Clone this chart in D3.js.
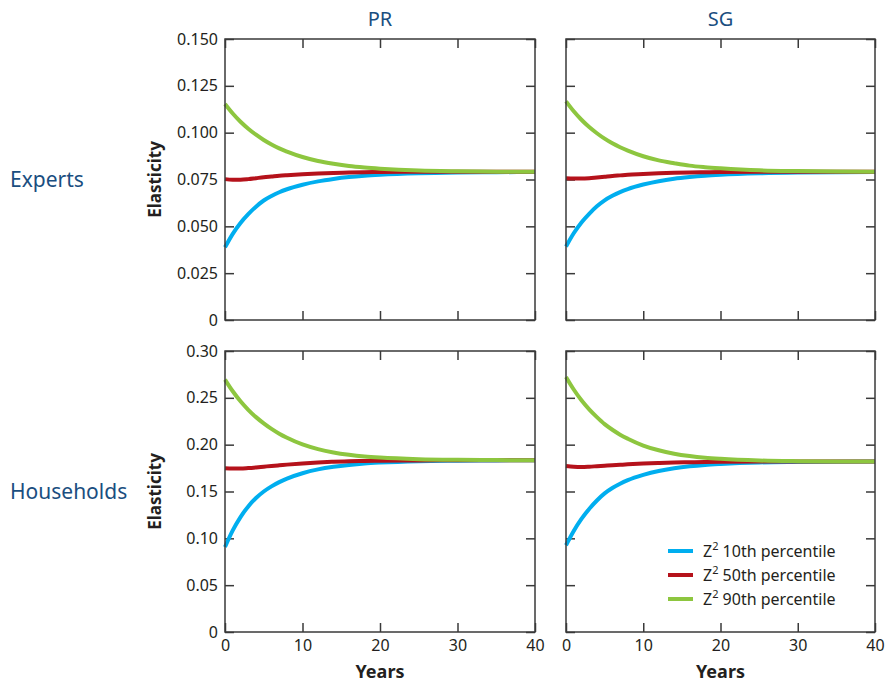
<!DOCTYPE html>
<html><head><meta charset="utf-8">
<script src="https://cdn.jsdelivr.net/npm/d3@7"></script>
<style>body{margin:0;background:#fff}svg{display:block}text{font-family:"Noto Sans",sans-serif}</style>
</head><body><svg id="c" width="885" height="684"></svg>
<script>
const years = [0,1,2,3,4,5,6,7,8,10,12,14,16,18,20,25,30,35,40];
const xTicks = [0,10,20,30,40];
const seriesNames = ["10th percentile","50th percentile","90th percentile"];
const seriesColors = ["#00aeef","#b5121b","#8dc63f"];
const colTitles = ["PR","SG"];
const rowTitles = ["Experts","Households"];
const yTicksExperts = [0,0.025,0.05,0.075,0.1,0.125,0.15];
const yTickLabelsExperts = ["0","0.025","0.050","0.075","0.100","0.125","0.150"];
const yTicksHouse = [0,0.05,0.1,0.15,0.2,0.25,0.3];
const yTickLabelsHouse = ["0","0.05","0.10","0.15","0.20","0.25","0.30"];

// Experts, PR
const expPR10 = [0.0388,0.0460,0.0518,0.0565,0.0605,0.0638,0.0662,0.0682,0.0698,0.0722,0.0740,0.0753,0.0763,0.0770,0.0775,0.0783,0.0787,0.0789,0.0790];
const expPR50 = [0.0752,0.0749,0.0749,0.0752,0.0757,0.0762,0.0766,0.0770,0.0773,0.0778,0.0782,0.0785,0.0787,0.0789,0.0790,0.0791,0.0791,0.0791,0.0791];
const expPR90 = [0.1153,0.1102,0.1058,0.1021,0.0989,0.0961,0.0937,0.0916,0.0899,0.0870,0.0849,0.0834,0.0822,0.0814,0.0808,0.0798,0.0794,0.0792,0.0791];
// Experts, SG
const expSG10 = [0.0392,0.0463,0.0521,0.0567,0.0607,0.0639,0.0663,0.0683,0.0699,0.0723,0.0741,0.0754,0.0763,0.0770,0.0775,0.0783,0.0787,0.0789,0.0790];
const expSG50 = [0.0757,0.0755,0.0755,0.0757,0.0761,0.0765,0.0769,0.0772,0.0775,0.0779,0.0783,0.0786,0.0788,0.0789,0.0790,0.0791,0.0791,0.0791,0.0791];
const expSG90 = [0.1167,0.1114,0.1069,0.1030,0.0997,0.0968,0.0943,0.0922,0.0904,0.0874,0.0852,0.0837,0.0824,0.0816,0.0810,0.0799,0.0795,0.0793,0.0792];
// Households, PR
const houPR10 = [0.0908,0.1085,0.1227,0.1341,0.1430,0.1500,0.1555,0.1600,0.1638,0.1695,0.1736,0.1764,0.1784,0.1799,0.1809,0.1824,0.1829,0.1832,0.1833];
const houPR50 = [0.1748,0.1745,0.1745,0.1750,0.1757,0.1765,0.1773,0.1780,0.1787,0.1800,0.1810,0.1817,0.1822,0.1826,0.1829,0.1832,0.1833,0.1833,0.1833];
const houPR90 = [0.2695,0.2570,0.2463,0.2372,0.2294,0.2227,0.2168,0.2117,0.2074,0.2003,0.1953,0.1917,0.1892,0.1874,0.1862,0.1845,0.1838,0.1835,0.1834];
// Households, SG
const houSG10 = [0.0926,0.1079,0.1207,0.1314,0.1404,0.1480,0.1537,0.1583,0.1621,0.1677,0.1719,0.1748,0.1769,0.1784,0.1794,0.1810,0.1815,0.1818,0.1819];
const houSG50 = [0.1773,0.1765,0.1762,0.1765,0.1770,0.1775,0.1780,0.1785,0.1790,0.1798,0.1804,0.1809,0.1812,0.1815,0.1817,0.1819,0.1819,0.1819,0.1819];
const houSG90 = [0.2723,0.2589,0.2474,0.2377,0.2294,0.2219,0.2159,0.2107,0.2064,0.1991,0.1940,0.1904,0.1879,0.1861,0.1849,0.1831,0.1824,0.1821,0.1820];

const panels = [
  {row:0,col:0,series:[expPR10,expPR50,expPR90]},
  {row:0,col:1,series:[expSG10,expSG50,expSG90]},
  {row:1,col:0,series:[houPR10,houPR50,houPR90]},
  {row:1,col:1,series:[houSG10,houSG50,houSG90]}
];
const rowY = [[39,320],[351,632]];
const colX = [[225,535],[566,875]];
const yDomains = [[0,0.15],[0,0.30]];
const yTickSets = [yTicksExperts, yTicksHouse];
const yTickLabelSets = [yTickLabelsExperts, yTickLabelsHouse];

const svg = d3.select("#c");
const frameColor = "#3a3a3a";
const titleColor = "#1a4e80";
const textColor = "#231f20";

panels.forEach(p => {
  const [x0,x1] = colX[p.col], [y0,y1] = rowY[p.row];
  const x = d3.scaleLinear().domain([0,40]).range([x0,x1]);
  const y = d3.scaleLinear().domain(yDomains[p.row]).range([y1,y0]);
  const g = svg.append("g");
  const tks = yTickSets[p.row], lbls = yTickLabelSets[p.row];
  const left = g.append("g").attr("transform",`translate(${x0},0)`)
    .call(d3.axisLeft(y).tickValues(tks).tickSize(-9).tickPadding(7)
      .tickFormat((d,i)=> p.col===0 ? lbls[i] : ""));
  const right = g.append("g").attr("transform",`translate(${x1},0)`)
    .call(d3.axisRight(y).tickValues(tks).tickSize(-9).tickFormat(""));
  const bottom = g.append("g").attr("transform",`translate(0,${y1})`)
    .call(d3.axisBottom(x).tickValues(xTicks).tickSize(-9).tickPadding(8)
      .tickFormat(d=> p.row===1 ? d : ""));
  const top = g.append("g").attr("transform",`translate(0,${y0})`)
    .call(d3.axisTop(x).tickValues(xTicks).tickSize(-9).tickFormat(""));
  [left,right,bottom,top].forEach(a=>{
    a.select(".domain").remove();
    a.selectAll(".tick line").attr("stroke",frameColor).attr("stroke-width",1.5);
    a.selectAll(".tick text").attr("fill",textColor).style("font-size","16px").style("font-family","'Noto Sans',sans-serif");
  });
  const line = d3.line().x((d,i)=>x(years[i])).y(d=>y(d)).curve(d3.curveMonotoneX);
  p.series.forEach((s,i)=>{
    g.append("path").datum(s).attr("d",line).attr("fill","none")
      .attr("stroke",seriesColors[i]).attr("stroke-width",4).attr("stroke-linecap","butt");
  });
  g.append("rect").attr("x",x0).attr("y",y0).attr("width",x1-x0).attr("height",y1-y0)
    .attr("fill","none").attr("stroke",frameColor).attr("stroke-width",1.5);
  if (p.col===0) {
    svg.append("text").attr("transform",`translate(161,${(y0+y1)/2}) rotate(-90)`)
      .attr("text-anchor","middle").style("font-size","17px").style("font-weight","bold")
      .attr("fill",textColor).text("Elasticity");
    svg.append("text").attr("x",10).attr("y",(y0+y1)/2+7).style("font-size","21px")
      .attr("fill",titleColor).text(rowTitles[p.row]);
  }
  if (p.row===0) {
    svg.append("text").attr("x",(x0+x1)/2).attr("y",26).attr("text-anchor","middle")
      .style("font-size","20px").attr("fill",titleColor).text(colTitles[p.col]);
  }
  if (p.row===1) {
    svg.append("text").attr("x",(x0+x1)/2).attr("y",678).attr("text-anchor","middle")
      .style("font-size","18px").style("font-weight","bold").attr("fill",textColor).text("Years");
  }
  if (p.row===1 && p.col===1) {
    const lg = svg.append("g");
    seriesNames.forEach((n,i)=>{
      const yy = 551 + i*24;
      lg.append("line").attr("x1",668).attr("x2",693).attr("y1",yy).attr("y2",yy)
        .attr("stroke",seriesColors[i]).attr("stroke-width",4);
      const t = lg.append("text").attr("x",703).attr("y",yy+6).style("font-size","16px").attr("fill",textColor);
      t.append("tspan").text("Z");
      t.append("tspan").attr("dy",-7).style("font-size","11px").text("2");
      t.append("tspan").attr("dy",7).text(" " + n);
    });
  }
});
</script></body></html>
